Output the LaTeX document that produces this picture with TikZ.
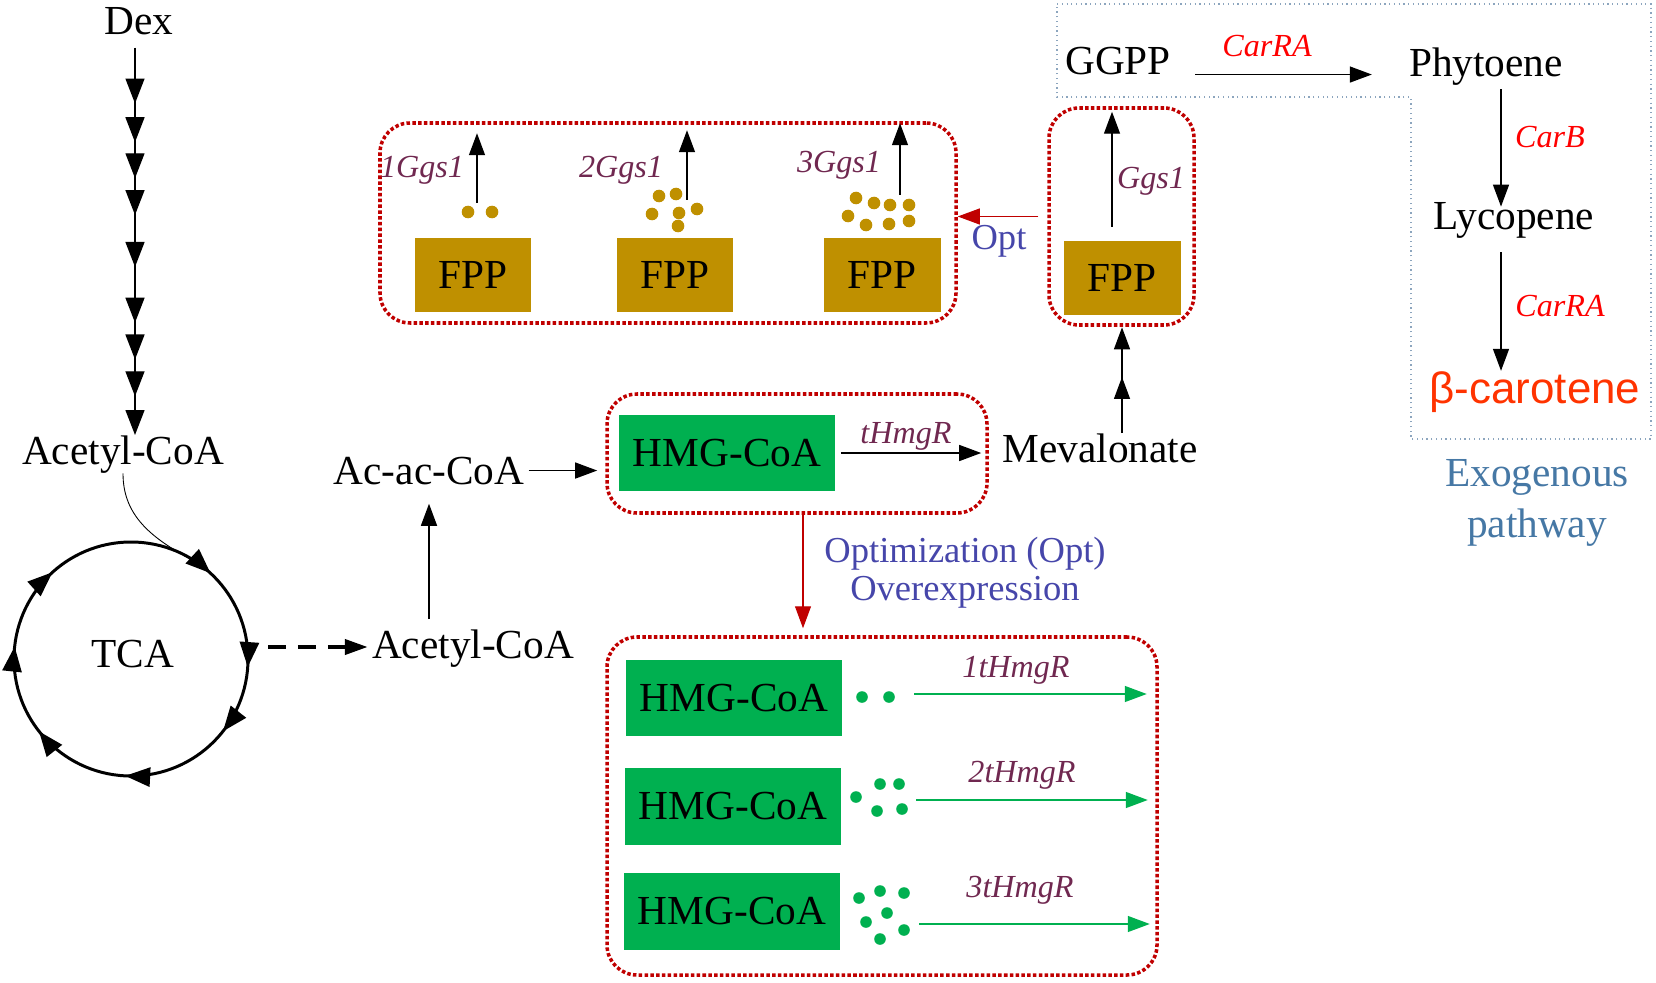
\documentclass[tikz,border=0pt]{standalone}
\usepackage{fontspec}
\setmainfont{Liberation Serif}
\newfontfamily\sansfam{Liberation Sans}
\usepackage{xcolor}
\usepackage{tikz}
\usetikzlibrary{positioning, calc, fit, arrows.meta, decorations.markings}
\definecolor{fppGold}{RGB}{191,144,0}
\definecolor{hmgGreen}{RGB}{0,176,80}
\definecolor{optRed}{RGB}{192,0,0}
\definecolor{enzPurple}{RGB}{112,40,80}
\definecolor{optBlue}{RGB}{70,70,170}
\definecolor{exoBlue}{RGB}{70,120,165}
\definecolor{exoLine}{RGB}{140,165,190}
\definecolor{caroRed}{RGB}{255,51,0}
\newcommand{\mainsize}{\fontsize{23.5}{28}\selectfont}
\newcommand{\enzsize}{\fontsize{18.3}{22}\selectfont\itshape}
\newcommand{\optsize}{\fontsize{20.8}{22}\selectfont}
\newcommand{\carosize}{\fontsize{25}{30}\selectfont\sansfam}
\newcommand{\headtip}{Triangle[length=0.44cm, width=0.32cm]}
\newcommand{\bigtip}{Triangle[length=0.5cm, width=0.38cm]}
\tikzset{
    metab/.style={inner sep=0pt, anchor=base, font=\mainsize},
    enzyme/.style={inner sep=0pt, anchor=base, font=\enzsize, text=enzPurple},
    optlabel/.style={inner sep=0pt, anchor=base, font=\optsize, text=optBlue},
    exolabel/.style={inner sep=0pt, anchor=base, font=\mainsize, text=exoBlue},
    fppbox/.style={fill=fppGold, minimum width=2.34cm, minimum height=1.48cm,
        inner sep=0pt, font=\mainsize},
    hmgbox/.style={fill=hmgGreen, minimum width=4.34cm, minimum height=1.54cm,
        inner sep=0pt, font=\mainsize},
    optbox/.style={draw=optRed, line width=2pt, dash pattern=on 2pt off 1.3pt,
        rounded corners=0.6cm, inner sep=0pt},
    tip/.style={-{\headtip}},
    flow/.style={tip, line width=0.8pt},
    redflow/.style={flow, draw=optRed, line width=0.6pt},
    greenflow/.style={flow, draw=hmgGreen},
    dashflow/.style={-{Triangle[length=0.46cm, width=0.3cm]}, line width=2.3pt,
        dash pattern=on 0.36cm off 0.24cm},
    chainflow/.style={-{\bigtip}, line width=0.8pt, postaction={decorate}, decoration={markings,
        mark=at position 0.144 with {\arrow{\bigtip}},
        mark=at position 0.244 with {\arrow{\bigtip}},
        mark=at position 0.337 with {\arrow{\bigtip}},
        mark=at position 0.432 with {\arrow{\bigtip}},
        mark=at position 0.566 with {\arrow{\bigtip}},
        mark=at position 0.710 with {\arrow{\bigtip}},
        mark=at position 0.805 with {\arrow{\bigtip}},
        mark=at position 0.900 with {\arrow{\bigtip}}}},
    midflow/.style={flow, postaction={decorate}, decoration={markings,
        mark=at position 0.53 with {\arrow{\headtip}}}},
    tcacycle/.style={line width=1.7pt, postaction={decorate}, decoration={markings,
        mark=at position 0.011 with {\arrow{\bigtip}},
        mark=at position 0.106 with {\arrow{\bigtip}},
        mark=at position 0.258 with {\arrow{\bigtip}},
        mark=at position 0.394 with {\arrow{\bigtip}},
        mark=at position 0.517 with {\arrow{\bigtip}},
        mark=at position 0.633 with {\arrow{\bigtip}},
        mark=at position 0.869 with {\arrow{\bigtip}}}},
    exoline/.style={draw=exoLine, line width=0.7pt, dotted}
}

\begin{document}
\begin{tikzpicture}[x=0.02cm, y=-0.02cm]
    \useasboundingbox (0,0) rectangle (1656,983);

    % glycolysis down to acetyl-CoA
    \node[metab] (Dex) at (139,35) {Dex};
    \node[metab] (AcL) at (123,464) {Acetyl-CoA};
    \draw[chainflow] ([xshift=-0.08cm, yshift=-0.24cm]Dex.south) -- ([xshift=-0.08cm]Dex.south |- AcL.north);

    % TCA cycle
    \node[metab] (TCA) at (133,667) {TCA};
    \coordinate (tcaC) at (131,659);
    \draw[tcacycle] (tcaC) circle[radius=117];
    \coordinate (tcaIn) at (196,562);
    \draw[line width=0.5pt] (AcL.south) .. controls (123,515) and (150,538) .. (tcaIn);
    \coordinate (tcaOut) at (268,647);
    \node[metab] (AcR) at (473,658) {Acetyl-CoA};
    \draw[dashflow, shorten >=0.08cm] (tcaOut) -- (tcaOut -| AcR.west);

    % mevalonate pathway
    \node[metab] (Acac) at (429,484) {Ac-ac-CoA};
    \draw[flow, shorten <=0.2cm, shorten >=0.38cm] (Acac.south |- AcR.north) -- (Acac.south);
    \node[hmgbox] (HMG) at (727,453) {HMG-CoA};
    \node[optbox, fit={(607,394) (987,513)}] (hmgGrp) {};
    \draw[flow, shorten <=0.08cm, shorten >=0.42cm] (Acac.east) -- (Acac.east -| HMG.west);
    \node[metab] (Mev) at (1100,462) {Mevalonate};
    \draw[flow, shorten <=0.1cm, shorten >=0.42cm] (HMG.east) -- (HMG.east -| Mev.west);
    \node[enzyme] (tHmgR) at (906,443) {tHmgR};

    % FPP to GGPP
    \node[fppbox] (FPPr) at (1122,278) {FPP};
    \node[optbox, fit={(1049,108) (1194,325)}] (fppGrp) {};
    \draw[midflow] (Mev.north -| FPPr.south) -- ([yshift=-0.24cm]FPPr.south);
    \node[metab] (GGPP) at (1118,75) {GGPP};
    \draw[flow, shorten <=0.28cm, shorten >=0.72cm] ([xshift=-0.2cm]FPPr.north) -- ([xshift=-0.2cm]FPPr.north |- GGPP.south);
    \node[enzyme] (Ggs) at (1151,189) {Ggs1};

    % optimized Ggs1 copies
    \foreach \i/\x in {1/473, 2/675, 3/882}
        \node[fppbox] (FPP\i) at (\x,275) {FPP};
    \node[optbox, fit={(380,123) (956,323)}] (fppSet) {};
    \foreach \i/\dx/\dy/\sh in {1/0.08/0.7/0.24, 2/0.24/0.76/0.18, 3/0.36/0.86/0.04}
        \draw[flow, shorten >=\sh cm] ([xshift=\dx cm, yshift=\dy cm]FPP\i.north) -- ([xshift=\dx cm]FPP\i.north |- fppSet.north);
    \node[enzyme] (ggs1) at (422,178) {1Ggs1};
    \node[enzyme] (ggs2) at (621,178) {2Ggs1};
    \node[enzyme] (ggs3) at (839,173) {3Ggs1};
    \foreach \p in {(468,212), (492,212),
                    (659,196), (676,194), (652,214), (679,213), (697,209), (678,226),
                    (856,198), (874,203), (890,205), (909,205), (848,216), (866,225), (889,224), (909,221)}
        \fill[fppGold] \p circle[radius=6.3];
    \draw[redflow, shorten <=0.18cm] (fppGrp.west) -- (fppGrp.west -| fppSet.east);
    \node[optlabel] (optA) at (999,250) {Opt};

    % exogenous carotenoid pathway
    \draw[exoline] (1057,4) -- (1651,4) -- (1651,439) -- (1411,439) -- (1411,97) -- (1057,97) -- cycle;
    \node[metab] (Phy) at (1486,77) {Phytoene};
    \draw[flow, shorten <=0.48cm, shorten >=0.74cm] ([yshift=-0.26cm]GGPP.east) -- ([yshift=-0.26cm]GGPP.east -| Phy.west);
    \node[enzyme, text=red] (carRA) at (1267,57) {CarRA};
    \node[metab] (Lyc) at (1514,230) {Lycopene};
    \draw[flow, shorten <=0.06cm, shorten >=-0.08cm] ([xshift=0.3cm]Phy.south) -- ([xshift=0.3cm]Phy.south |- Lyc.north);
    \node[enzyme, text=red] (carB) at (1550,148) {CarB};
    \node[metab, font=\carosize, text=caroRed] (Bcar) at (1535,403) {β-carotene};
    \draw[flow, shorten <=0.26cm] ([xshift=-0.26cm]Lyc.south) -- ([xshift=-0.26cm]Lyc.south |- Bcar.north);
    \node[enzyme, text=red] (carRB) at (1560,316) {CarRA};
    \node[exolabel] (exo1) at (1537,486) {Exogenous};
    \node[exolabel] (exo2) at (1537,537) {pathway};

    % overexpression of tHmgR
    \node[optbox, fit={(607,637) (1157,975)}] (hmgSet) {};
    \draw[redflow, shorten >=0.14cm] ([xshift=0.12cm]hmgGrp.south) -- ([xshift=0.12cm]hmgGrp.south |- hmgSet.north);
    \node[optlabel] (opt1) at (965,562) {Optimization (Opt)};
    \node[optlabel] (opt2) at (965,600) {Overexpression};
    \node[hmgbox] (HMGa) at (734,698) {HMG-CoA};
    \node[hmgbox] (HMGb) at (733,806) {HMG-CoA};
    \node[hmgbox] (HMGc) at (732,911) {HMG-CoA};
    \foreach \n/\dx/\dy/\sh in {a/1.43/0.08/0.24, b/1.49/0.12/0.22, c/1.57/-0.26/0.18}
        \draw[greenflow, shorten >=\sh cm] ([xshift=\dx cm, yshift=\dy cm]HMG\n.east) -- ([yshift=\dy cm]HMG\n.east -| hmgSet.east);
    \node[enzyme] (hmg1) at (1016,677) {1tHmgR};
    \node[enzyme] (hmg2) at (1022,782) {2tHmgR};
    \node[enzyme] (hmg3) at (1020,897) {3tHmgR};
    \foreach \p in {(862,697), (889,697),
                    (856,797), (880,784), (899,784), (877,811), (902,809),
                    (859,898), (880,891), (904,893), (887,913), (866,922), (904,930), (880,939)}
        \fill[hmgGreen] \p circle[radius=5.8];
\end{tikzpicture}
\end{document}
